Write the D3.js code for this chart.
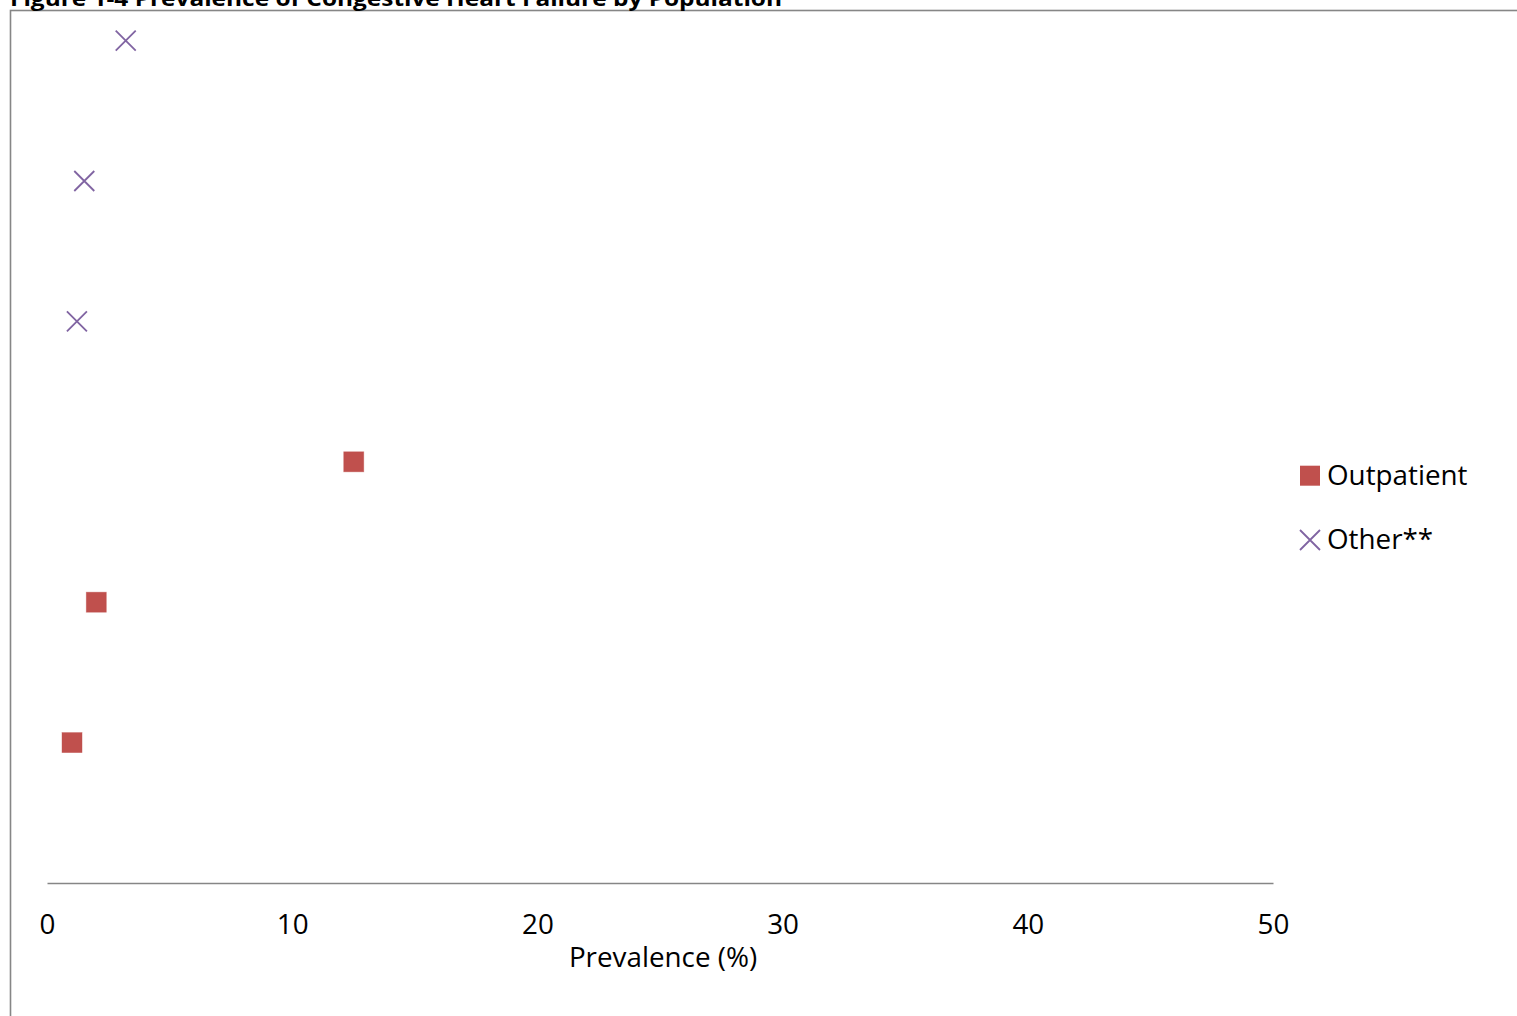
<!DOCTYPE html>
<html>
<head>
<meta charset="utf-8">
<script src="https://cdn.jsdelivr.net/npm/d3@7"></script>
<style>
  html, body { margin: 0; padding: 0; background: #fff; overflow: hidden; }
  svg { display: block; font-family: "Open Sans", "Liberation Sans", sans-serif; }
</style>
</head>
<body>
<svg id="chart" width="1517" height="1016"></svg>
<script>
// ---- Data ----
const titleText = "Figure 1-4 Prevalence of Congestive Heart Failure by Population";
const xAxisTitle = "Prevalence (%)";
const xTicks = [0, 10, 20, 30, 40, 50];
const seriesNames = ["Outpatient", "Other**"];
// row positions (1 = bottom row)
const outpatientRows = [1, 2, 3];
const outpatientValues = [1.02, 2.01, 12.51];
const otherRows = [4, 5, 6];
const otherValues = [1.22, 1.52, 3.21];

// ---- Layout ----
const svg = d3.select("#chart");
const W = 1517, H = 1016;
const plot = { left: 47, right: 1273, top: 40.6, bottom: 883 };
const red = "#C0504D", purple = "#8064A2", gray = "#868686";
const fs = 27.8;

const x = d3.scaleLinear().domain([0, 50]).range([plot.left, plot.right]);
const y = d3.scaleLinear().domain([0, 6]).range([plot.bottom, plot.top]);

// Chart border (extends past the visible area)
svg.append("rect")
  .attr("x", 10.5).attr("y", 10.5)
  .attr("width", W + 20).attr("height", H + 20)
  .attr("fill", "none").attr("stroke", gray).attr("stroke-width", 1.6);

// Title (cropped at top, as in the reference)
svg.append("text")
  .attr("x", 10).attr("y", 6)
  .attr("font-size", 22).attr("font-weight", "bold").attr("fill", "#000")
  .attr("textLength", 772).attr("lengthAdjust", "spacingAndGlyphs")
  .text(titleText);

// X axis
const xAxis = d3.axisBottom(x).tickValues(xTicks).tickSize(0).tickPadding(0).tickFormat(d3.format("d"));
const gx = svg.append("g").attr("transform", `translate(0,${plot.bottom})`).call(xAxis);
gx.select(".domain").attr("stroke", gray).attr("stroke-width", 1.6);
gx.selectAll(".tick text")
  .attr("font-family", "'Open Sans', sans-serif")
  .attr("font-size", fs).attr("fill", "#000")
  .attr("dy", null).attr("y", 51);

// Axis title
svg.append("text")
  .attr("x", (plot.left + plot.right) / 2 + 3).attr("y", 967)
  .attr("text-anchor", "middle").attr("font-size", fs).attr("fill", "#000")
  .text(xAxisTitle);

// Markers
const sq = 20, xs = 10;
svg.append("g").selectAll("rect")
  .data(outpatientValues.map((v, i) => ({ v, r: outpatientRows[i] })))
  .join("rect")
  .attr("x", d => x(d.v) - sq / 2).attr("y", d => y(d.r) - sq / 2)
  .attr("width", sq).attr("height", sq)
  .attr("fill", red).attr("stroke", red).attr("stroke-width", 0.8).attr("stroke-opacity", 0.5);

const cross = (cx, cy, s) => `M${cx - s},${cy - s}L${cx + s},${cy + s}M${cx - s},${cy + s}L${cx + s},${cy - s}`;
svg.append("g").selectAll("path")
  .data(otherValues.map((v, i) => ({ v, r: otherRows[i] })))
  .join("path")
  .attr("d", d => cross(x(d.v), y(d.r), xs))
  .attr("fill", "none").attr("stroke", purple).attr("stroke-width", 1.8);

// Legend
const leg = svg.append("g");
leg.append("rect").attr("x", 1300).attr("y", 465.7).attr("width", 20).attr("height", 20).attr("fill", red);
leg.append("text").attr("x", 1327).attr("y", 485).attr("font-size", fs).attr("fill", "#000").text(seriesNames[0]);
leg.append("path").attr("d", cross(1310, 540, 10)).attr("fill", "none").attr("stroke", purple).attr("stroke-width", 1.8);
leg.append("text").attr("x", 1327).attr("y", 549).attr("font-size", fs).attr("fill", "#000").text(seriesNames[1]);
</script>
</body>
</html>
